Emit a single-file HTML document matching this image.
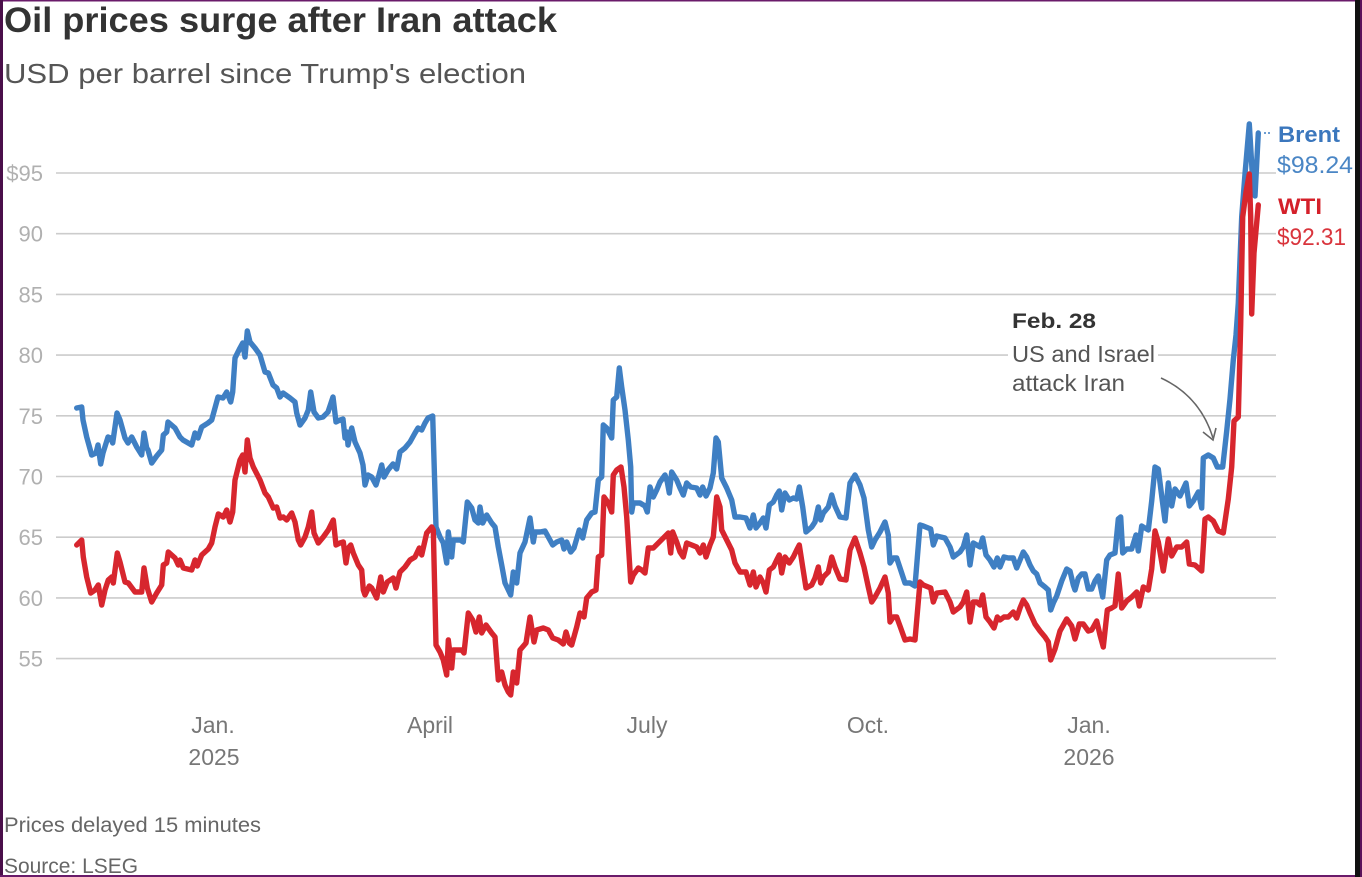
<!DOCTYPE html>
<html>
<head>
<meta charset="utf-8">
<style>
  html,body{margin:0;padding:0;background:#fff;}
  svg{display:block;}
  text{font-family:"Liberation Sans",sans-serif;}
</style>
</head>
<body>
<svg width="1362" height="877" viewBox="0 0 1362 877" xmlns="http://www.w3.org/2000/svg">
  <rect x="0" y="0" width="1362" height="877" fill="#ffffff"/>

  <!-- Title / subtitle -->
  <text x="4" y="32" font-size="35" font-weight="bold" fill="#333333" textLength="553" lengthAdjust="spacingAndGlyphs">Oil prices surge after Iran attack</text>
  <text x="4" y="83" font-size="28" fill="#555555" textLength="522" lengthAdjust="spacingAndGlyphs">USD per barrel since Trump's election</text>

  <!-- Gridlines -->
  <g stroke="#cccccc" stroke-width="1.6">
    <line x1="56" y1="173" x2="1276" y2="173"/>
    <line x1="56" y1="233.7" x2="1276" y2="233.7"/>
    <line x1="56" y1="294.4" x2="1276" y2="294.4"/>
    <line x1="56" y1="355.1" x2="1276" y2="355.1"/>
    <line x1="56" y1="415.8" x2="1276" y2="415.8"/>
    <line x1="56" y1="476.5" x2="1276" y2="476.5"/>
    <line x1="56" y1="537.2" x2="1276" y2="537.2"/>
    <line x1="56" y1="597.9" x2="1276" y2="597.9"/>
    <line x1="56" y1="658.6" x2="1276" y2="658.6"/>
  </g>

  <!-- Y labels -->
  <g font-size="22" fill="#b0b0b0" text-anchor="end">
    <text x="43" y="181">$95</text>
    <text x="43" y="241.7">90</text>
    <text x="43" y="302.4">85</text>
    <text x="43" y="363.1">80</text>
    <text x="43" y="423.8">75</text>
    <text x="43" y="484.5">70</text>
    <text x="43" y="545.2">65</text>
    <text x="43" y="605.9">60</text>
    <text x="43" y="666.6">55</text>
  </g>

  <!-- X labels -->
  <g font-size="23" fill="#777777" text-anchor="middle">
    <text x="213" y="733">Jan.</text>
    <text x="214" y="765">2025</text>
    <text x="430" y="733">April</text>
    <text x="647" y="733">July</text>
    <text x="868" y="733">Oct.</text>
    <text x="1089" y="733">Jan.</text>
    <text x="1089" y="765">2026</text>
  </g>

  <!-- Annotation -->
  <rect x="1008" y="350" width="150" height="10" fill="#ffffff"/>
  <text x="1012" y="328" font-size="21" font-weight="bold" fill="#333333" textLength="84" lengthAdjust="spacingAndGlyphs">Feb. 28</text>
  <text x="1012" y="362" font-size="23" fill="#555555" textLength="143" lengthAdjust="spacingAndGlyphs">US and Israel</text>
  <text x="1012" y="391" font-size="23" fill="#555555" textLength="113" lengthAdjust="spacingAndGlyphs">attack Iran</text>
  <path d="M1161,378 Q1200,396 1213,438" fill="none" stroke="#666666" stroke-width="1.6"/>
  <path d="M1203,432 L1213,440 L1216,428" fill="none" stroke="#666666" stroke-width="1.6"/>

  <!-- Brent -->
  <polyline fill="none" stroke="#3f7fc3" stroke-width="5.4" stroke-linejoin="round" stroke-linecap="round" points="76.7,408 81.7,407 83,420 86.7,437 91.7,455 96,453 98,445 100.7,464 103,453 108,437 110.7,438 112.7,443 117,413 120,420 125,438 128,443 131.7,437 136.7,447 141.7,455 144,433 146.7,448 148,450 151.7,463 156.7,456 161.7,450 163.3,435 166.7,432 168,422 175,428 180,437 183,440 191.7,445 195,433 198,438 201.7,427 208,423 211.7,420 215,408 218,397 223,398 226.7,392 230.7,402 232.7,392 235,358 240,348 242.7,343 245,357 247.3,331 250,342 255,348 260,355 265,372 268.3,373 273,385 276.7,388 280,397 283,393 290,398 295,402 296.7,413 300,425 305,418 308.3,410 310.7,392 314,412 318.3,418 323,417 328,412 333,397 336,422 340,420 343,419 345,438 347,432 348,445 351.7,428 355,442 360,453 363,465 365,485 368,475 371.7,477 376,485 379,475 381.7,465 384,477 388,470 393,464 396.7,469 400,452 405,448 410,442 415,433 418,428 421.7,430 425,423 428,418 432.7,416 436,527 440,537 443.3,543 446.7,563 448.3,532 451.7,557 453.3,540 460,540 463.3,542 467.3,502 471.7,508 475,520 478.3,523 480,507 482.7,523 486.7,515 491.7,523 495,527 498.3,547 501.7,565 505,583 510.7,595 513.3,572 516.7,583 520,553 525,542 530,518 533.3,542 535,532 540,532 545,531 548.3,537 552.7,545 556.7,542 561.7,540 564,549 566.7,542 570.7,552 574,548 579.3,530 582.7,538 586.7,520 591.7,513 595,512 598.3,480 601.7,477 603.3,425 606.7,428 611.7,438 613.3,400 616.7,397 619.3,368 621.7,387 625,410 628.3,440 630.7,467 631.7,512 633.3,503 640,503 645,506 647.3,512 650,487 653.3,497 656.7,490 660,482 665,475 667.3,482 669.3,493 671.7,472 676.7,480 680,488 683.3,495 686.7,483 690.7,487 696.7,488 700,495 702.7,487 706,496 710,488 713.3,473 716,438 718.3,442 721.7,478 726.7,488 731.7,500 735,517 740,517 746,518 750,528 753.3,515 756,528 760,523 763.3,518 766,528 769.3,505 773.3,502 776.7,495 779.3,491 781.7,510 785,493 789.3,500 793.3,498 796.7,499 799.3,487 802.7,507 806,532 811.7,527 815,522 818.3,507 820.7,520 823.3,513 828.3,507 831.7,495 835,506 840,517 846,518 850,483 855,475 860,485 864,498 868.3,530 871.7,547 875,540 880,532 885,522 888.3,535 890,563 893.3,558 896.7,558 900.7,570 905,583 910,583 915,586 920,525 923.3,526 930.7,529 933.3,545 936.7,536 945,538 950,547 953.3,557 960,552 963.3,547 966.7,535 970,565 973.3,543 976.7,545 980,547 982.7,538 986,555 990,560 994,567 997.3,558 1000,567 1004,557 1008.3,558 1013.3,558 1016.7,568 1020,560 1023.3,552 1026.7,557 1030,565 1033.3,571 1036.7,574 1040,583 1045,587 1048.3,590 1050.7,610 1053.3,603 1056.7,596 1061.7,581 1066.7,569 1070,571 1073.3,585 1075,590 1078.3,578 1081.7,574 1085,574 1088.3,589 1091.7,589 1095,581 1098.3,576 1102.7,597 1106.7,560 1110,555 1115,553 1118.3,519 1120.7,517 1122.7,553 1126.7,549 1131.7,549 1136,535 1138.3,551 1141.7,526 1145,528 1148.3,530 1151.7,501 1155,467 1158.3,469 1161.7,496 1165,521 1168.3,483 1171.7,506 1175,489 1180,496 1186,483 1189.3,506 1193.3,501 1198.3,492 1201.7,508 1203.3,458 1208.3,455 1213.3,458 1217.3,467 1222.7,467 1226.7,431 1230,399 1233.3,360 1236,335 1238.3,303 1241.7,217 1245,174 1249.3,124 1252.7,181 1255,196 1258.3,133"/>

  <!-- WTI -->
  <polyline fill="none" stroke="#d7262e" stroke-width="5.4" stroke-linejoin="round" stroke-linecap="round" points="76.7,545 81.7,540 83.3,557 86.7,577 90.7,593 95,590 98.3,585 101.7,605 105,590 108.3,580 111.7,577 113.3,583 117.3,553 120,562 125,582 128.3,583 135,592 141.7,592 144,568 147.3,588 151.7,602 156.7,593 161.7,585 163.3,565 166.7,563 168.3,552 175,558 178.3,565 180,560 183.3,568 191.7,570 195,560 197.3,566 201.7,555 208.3,549 211.7,543 215,527 218.3,514 223.3,517 226.7,510 230,522 232.7,512 235,480 240,460 242.7,455 245,472 247.3,440 250,458 253.3,467 260,480 265,493 268.3,497 273.3,508 276.7,507 280,518 283.3,517 286.7,520 291.7,513 295,522 298.3,540 300.7,545 305,537 308.3,527 311.7,512 314,533 318.3,543 323.3,537 328.3,530 333.3,520 336,545 340,543 343.3,542 346,563 348.3,548 350.7,545 353.3,553 358.3,565 361.7,570 363.3,590 365,595 369.3,586 371.7,588 376.7,598 380.7,577 383.3,592 387.3,582 393.3,578 396,588 400,572 405,567 410,560 415,557 419.3,548 421.7,555 426.7,533 431.7,527 433.3,530 436,645 440,652 443.3,660 446.7,675 448.3,640 451.7,668 453.3,650 461.7,650 464,653 468.3,613 472.7,620 476,632 479.3,617 481.7,633 486,625 491.7,633 495,637 498.3,680 501.7,672 505,685 508.3,692 510.7,695 513.3,672 516.7,683 520,650 526,643 530,617 534,642 536.7,630 543.3,628 548.3,630 552.7,638 558.3,640 563.3,644 566,632 569.3,643 571.7,645 576.7,627 580,613 584,617 586.7,598 591.7,592 596,590 598.3,557 601.7,555 604,497 608.3,503 611.7,512 613.3,475 616.7,470 621,467 624,487 626.7,517 630.7,582 633.3,575 638.3,568 641.7,570 645,573 648.3,548 653.3,548 658.3,543 663.3,538 668.3,533 670.7,553 672.7,532 676.7,542 680,552 683.3,557 686.7,543 691.7,545 696.7,547 700,553 703.3,545 706,557 710,545 713.3,537 716.7,497 720,507 721.7,530 726.7,540 731.7,550 735,563 740,572 746,572 750,585 753.3,572 756,587 760,577 763.3,583 766,592 769.3,570 773.3,567 776.7,560 779.3,555 781.7,573 785,557 789.3,563 793.3,557 796.7,550 799.3,545 802.7,567 806,588 811.7,585 815,578 818.3,567 820.7,583 823.3,577 828.3,572 831.7,557 835,567 840,579 846,580 850,550 855,538 860,553 864,567 868.3,587 871.7,602 875,597 880,588 885,577 888.3,593 890,622 893.3,617 896.7,617 900.7,628 905,640 910,639 915,640 920,582 923.3,585 930.7,588 933.3,602 936.7,593 945,592 950,602 953.3,612 960,607 963.3,602 966.7,592 970,622 973.3,602 976.7,602 980,605 982.7,595 986,617 990,622 994,628 997.3,617 1000,620 1004,617 1008.3,617 1013.3,612 1016.7,618 1020,608 1023.3,600 1026.7,605 1030,613 1035,624 1040,631 1045,637 1048.3,642 1050.7,660 1055,649 1060,631 1066.7,619 1071.7,626 1075,639 1079.3,624 1083.3,624 1088.3,631 1091.7,630 1096.7,621 1100,635 1103.3,647 1107.3,610 1111.7,608 1115,606 1118.3,574 1121.7,608 1126.7,601 1131.7,597 1136.7,592 1139.3,606 1143.3,587 1148.3,590 1151.7,569 1155,531 1158.3,542 1163.3,571 1168.3,539 1171.7,556 1176.7,547 1181.7,547 1186.7,542 1189.3,564 1195,565 1201.7,571 1205,519 1208.3,517 1213.3,521 1218.3,531 1223.3,533 1228.3,499 1231.7,467 1234,421 1238.3,417 1240.7,324 1242.7,217 1246,192 1249.3,174 1250.7,217 1251.7,314 1254,253 1258.3,205"/>

  <!-- End labels -->
  <line x1="1264" y1="133" x2="1270" y2="133" stroke="#3f7fc3" stroke-width="1.5" stroke-dasharray="2,2"/>
  <text x="1278" y="142" font-size="22" font-weight="bold" fill="#3b77bd" textLength="62" lengthAdjust="spacingAndGlyphs">Brent</text>
  <text x="1277" y="173" font-size="24" fill="#4a86c5" textLength="76" lengthAdjust="spacingAndGlyphs">$98.24</text>
  <text x="1278" y="214" font-size="22" font-weight="bold" fill="#d4202a" textLength="44" lengthAdjust="spacingAndGlyphs">WTI</text>
  <text x="1277" y="245" font-size="24" fill="#d9343c" textLength="69" lengthAdjust="spacingAndGlyphs">$92.31</text>

  <!-- Footer -->
  <text x="4" y="832" font-size="21" fill="#666666" textLength="257" lengthAdjust="spacingAndGlyphs">Prices delayed 15 minutes</text>
  <text x="4" y="873" font-size="21" fill="#666666" textLength="134" lengthAdjust="spacingAndGlyphs">Source: LSEG</text>

  <!-- Border frame -->
  <rect x="0" y="0" width="1362" height="1.5" fill="#6a1b6a"/>
  <rect x="0" y="0" width="3" height="877" fill="#4a0f4a"/>
  <rect x="0" y="875" width="1362" height="2" fill="#6a1b6a"/>
  <rect x="1355" y="0" width="5" height="877" fill="#111111"/>
  <rect x="1360" y="0" width="2" height="877" fill="#5a125a"/>
</svg>
</body>
</html>
